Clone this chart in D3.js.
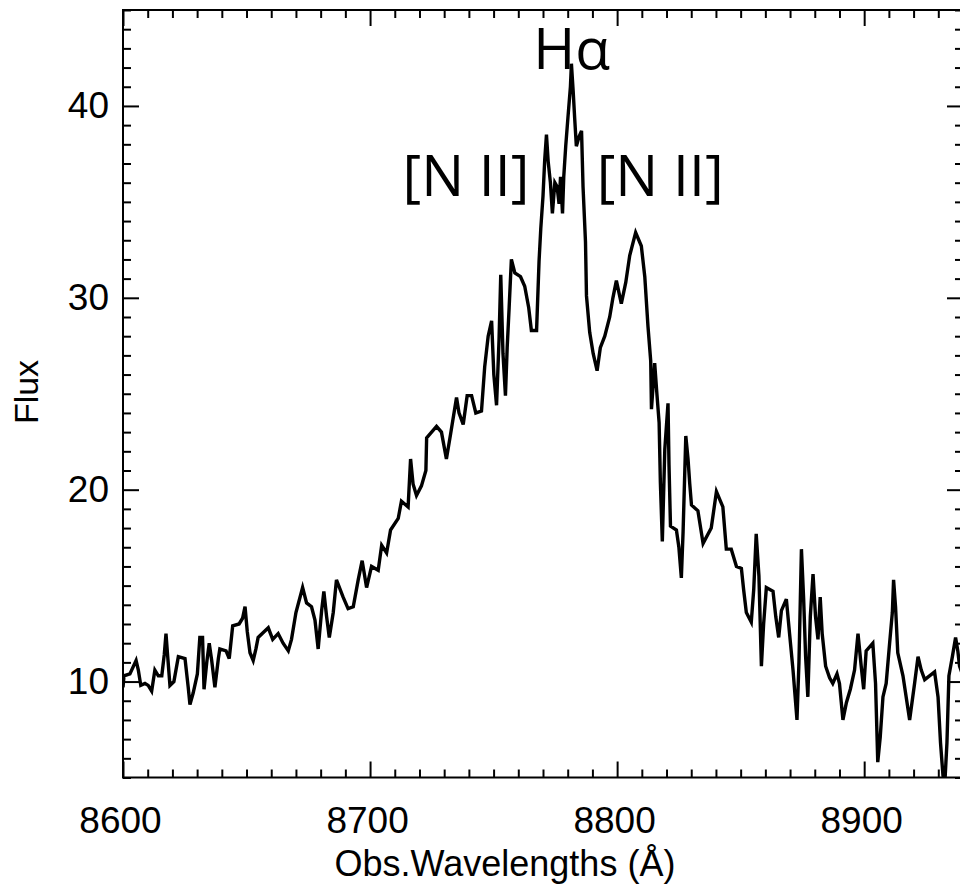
<!DOCTYPE html>
<html>
<head>
<meta charset="utf-8">
<script src="https://cdn.jsdelivr.net/npm/d3@7"></script>
<style>
    html, body { margin: 0; padding: 0; background: #fff; }
    svg { display: block; }
</style>
</head>
<body>
<div id="chart"></div>
<script>
/**
 * Spectrum around H-alpha + [N II], IDL style box plot.
 * Flux vs observed wavelength, ticks inside on all four sides.
 */

const wavelengths = [
    8600.0, 8600.4, 8602.8, 8605.3, 8606.2, 8607.2, 8608.9, 8610.2, 8611.6, 8612.9,
    8614.3, 8615.7, 8616.7, 8617.4, 8618.1, 8619.0, 8620.6, 8622.4, 8625.1, 8626.4,
    8627.1, 8628.4, 8630.1, 8631.1, 8632.2, 8632.8, 8633.9, 8634.9, 8635.9, 8637.2,
    8638.6, 8639.2, 8641.7, 8643.0, 8644.4, 8647.0, 8648.4, 8649.4, 8650.3, 8651.4,
    8652.7, 8653.8, 8654.7, 8658.8, 8660.6, 8662.8, 8664.8, 8666.9, 8668.2, 8670.0,
    8672.7, 8674.3, 8676.3, 8677.7, 8679.0, 8680.4, 8681.3, 8682.4, 8683.5, 8685.1,
    8686.4, 8689.1, 8691.1, 8693.2, 8695.2, 8696.8, 8698.6, 8700.6, 8703.3, 8704.7,
    8706.7, 8708.3, 8711.4, 8712.7, 8715.4, 8716.4, 8717.4, 8718.8, 8720.8, 8722.6,
    8722.9, 8726.9, 8728.9, 8730.9, 8732.6, 8735.0, 8736.0, 8737.7, 8739.3, 8741.1,
    8742.8, 8745.1, 8746.4, 8747.8, 8749.2, 8750.1, 8751.2, 8752.2, 8752.9, 8753.8,
    8754.8, 8755.5, 8756.3, 8757.2, 8758.6, 8760.9, 8762.6, 8764.2, 8765.3, 8767.4,
    8768.4, 8769.1, 8770.0, 8770.7, 8771.4, 8772.1, 8773.0, 8773.8, 8774.8, 8775.7,
    8776.5, 8777.1, 8777.9, 8778.4, 8779.2, 8780.1, 8781.1, 8781.5, 8782.2, 8782.8,
    8783.5, 8784.6, 8785.6, 8786.2, 8787.2, 8787.6, 8788.9, 8790.3, 8791.9, 8793.2,
    8795.0, 8797.0, 8798.3, 8799.7, 8801.7, 8803.5, 8805.1, 8807.5, 8809.8, 8811.2,
    8812.5, 8813.6, 8813.9, 8815.2, 8816.1, 8817.0, 8817.5, 8818.3, 8819.3, 8820.6,
    8821.0, 8821.6, 8824.0, 8825.0, 8826.0, 8826.7, 8827.8, 8828.7, 8829.4, 8830.1,
    8832.7, 8834.8, 8838.1, 8840.2, 8842.8, 8844.2, 8846.2, 8848.3, 8850.3, 8851.2,
    8852.3, 8854.3, 8855.3, 8856.3, 8857.4, 8858.4, 8859.3, 8860.4, 8863.1, 8864.2,
    8865.4, 8866.5, 8868.5, 8869.8, 8871.2, 8872.8, 8873.6, 8874.6, 8875.5, 8876.3,
    8877.2, 8878.2, 8879.3, 8880.3, 8881.3, 8882.2, 8883.0, 8884.4, 8886.0, 8887.3,
    8889.0, 8890.0, 8891.4, 8892.8, 8894.4, 8896.1, 8897.5, 8898.8, 8899.8, 8900.8,
    8903.5, 8904.6, 8905.5, 8906.5, 8907.6, 8908.9, 8910.3, 8911.4, 8911.9, 8912.7,
    8913.6, 8915.7, 8918.4, 8920.4, 8921.8, 8923.1, 8924.5, 8928.5, 8929.9, 8930.9,
    8931.9, 8932.6, 8933.5, 8934.3, 8935.7, 8937.0, 8937.9, 8938.6, 8940.0
];
const flux = [
    9.7, 10.3, 10.4, 11.1, 10.6, 9.8, 9.9, 9.8, 9.5, 10.6,
    10.3, 10.3, 11.4, 12.5, 11.3, 9.8, 10.0, 11.3, 11.2, 9.7,
    8.8, 9.4, 10.4, 12.3, 12.3, 9.6, 11.0, 12.0, 11.1, 9.7,
    11.2, 11.7, 11.6, 11.2, 12.9, 13.0, 13.3, 13.9, 12.6, 11.5,
    11.1, 11.7, 12.3, 12.8, 12.2, 12.5, 12.0, 11.6, 12.2, 13.6,
    14.9, 14.1, 13.9, 13.2, 11.7, 13.7, 14.7, 13.4, 12.3, 13.6,
    15.3, 14.4, 13.8, 13.9, 15.3, 16.3, 14.9, 16.0, 15.8, 17.1,
    16.7, 17.9, 18.5, 19.4, 19.1, 21.6, 20.3, 19.7, 20.2, 21.0,
    22.7, 23.3, 23.0, 21.6, 22.9, 24.8, 24.0, 23.4, 24.9, 24.9,
    24.0, 24.1, 26.4, 28.0, 28.8, 26.0, 24.4, 27.8, 31.2, 27.1,
    24.9, 27.4, 29.5, 32.0, 31.3, 31.1, 30.6, 29.5, 28.3, 28.3,
    31.9, 33.6, 35.3, 37.2, 38.5, 37.1, 36.0, 34.4, 36.0, 35.8,
    34.9, 36.3, 34.4, 36.3, 37.9, 39.4, 41.0, 42.2, 40.8, 39.4,
    37.9, 38.4, 38.7, 35.8, 32.9, 30.1, 28.2, 27.1, 26.2, 27.4,
    28.0, 29.0, 30.0, 30.9, 29.7, 30.8, 32.2, 33.4, 32.7, 31.1,
    28.5, 26.7, 24.2, 26.6, 25.0, 23.5, 20.4, 17.3, 22.1, 24.5,
    21.3, 18.1, 17.9, 17.0, 15.4, 17.8, 22.8, 21.6, 20.3, 19.2,
    18.9, 17.2, 18.0, 19.9, 19.1, 16.9, 16.9, 16.0, 15.9, 14.8,
    13.6, 13.1, 14.8, 17.7, 15.5, 10.8, 13.0, 14.9, 14.7, 13.4,
    12.3, 13.7, 14.3, 12.5, 10.6, 8.0, 11.0, 16.9, 14.3, 11.3,
    9.2, 13.4, 15.6, 13.4, 12.2, 14.4, 12.5, 10.8, 10.2, 9.9,
    10.4, 9.9, 8.0, 8.9, 9.6, 10.6, 12.5, 10.8, 9.6, 11.6,
    12.0, 9.9, 5.8, 7.1, 9.2, 9.9, 12.0, 13.6, 15.3, 13.9,
    11.5, 10.3, 8.0, 9.9, 11.3, 10.6, 10.1, 10.5, 9.2, 6.8,
    5.1, 4.6, 6.8, 10.3, 11.3, 12.3, 11.6, 10.8, 10.3
];

// Axis ticks and labels
const xTickValues = [8600, 8700, 8800, 8900];
const yTickValues = [10, 20, 30, 40];
const xAxisTitle = "Obs.Wavelengths (Å)";
const yAxisTitle = "Flux";

// Emission line annotations
const lineLabels = ["Hα", "[N II]", "[N II]"];
const lineLabelWavelengths = [8781.6, 8738.8, 8817.4];
const lineLabelFlux = [41.9, 35.3, 35.3];

const W = 960, H = 885;
const margin = { top: 10, left: 123, right: -3, bottom: 107.5 };
const FONT = "'Liberation Sans', Arial, sans-serif";

const svg = d3.select("#chart").append("svg")
    .attr("width", W)
    .attr("height", H);

svg.append("rect")
    .attr("width", W)
    .attr("height", H)
    .attr("fill", "#fff");

const x = d3.scaleLinear()
    .domain([8600, 8940])
    .range([margin.left, W - margin.right]);

const y = d3.scaleLinear()
    .domain([5, 45])
    .range([H - margin.bottom, margin.top]);

const x0 = margin.left, x1 = W - margin.right;
const y0 = H - margin.bottom, y1 = margin.top;

const xMinor = d3.range(8600, 8941, 10).filter(v => !xTickValues.includes(v));
const yMinor = d3.range(5, 46, 1).filter(v => !yTickValues.includes(v));

function styleAxis(g) {
    g.select(".domain").remove();
    g.selectAll(".tick line").attr("stroke", "#000").attr("stroke-width", 2);
    g.selectAll("text")
        .attr("fill", "#000")
        .attr("font-family", FONT)
        .attr("font-size", "37px");
}

// Bottom (labelled) and top axes, ticks pointing inward
svg.append("g").attr("transform", `translate(0,${y0})`)
    .call(d3.axisBottom(x).tickValues(xMinor).tickSize(-8).tickFormat(""))
    .call(styleAxis);
svg.append("g").attr("transform", `translate(0,${y0})`)
    .call(d3.axisBottom(x).tickValues(xTickValues).tickSize(-16).tickPadding(29).tickFormat(d3.format("d")))
    .call(styleAxis)
    .selectAll("text").attr("dx", "-3px");
svg.append("g").attr("transform", `translate(0,${y1})`)
    .call(d3.axisTop(x).tickValues(xMinor).tickSize(-8).tickFormat(""))
    .call(styleAxis);
svg.append("g").attr("transform", `translate(0,${y1})`)
    .call(d3.axisTop(x).tickValues(xTickValues).tickSize(-16).tickFormat(""))
    .call(styleAxis);

// Left (labelled) and right axes
svg.append("g").attr("transform", `translate(${x0},0)`)
    .call(d3.axisLeft(y).tickValues(yMinor).tickSize(-8).tickFormat(""))
    .call(styleAxis);
svg.append("g").attr("transform", `translate(${x0},0)`)
    .call(d3.axisLeft(y).tickValues(yTickValues).tickSize(-16).tickPadding(14).tickFormat(d3.format("d")))
    .call(styleAxis);
svg.append("g").attr("transform", `translate(${x1},0)`)
    .call(d3.axisRight(y).tickValues(yMinor).tickSize(-8).tickFormat(""))
    .call(styleAxis);
svg.append("g").attr("transform", `translate(${x1},0)`)
    .call(d3.axisRight(y).tickValues(yTickValues).tickSize(-16).tickFormat(""))
    .call(styleAxis);

// Box frame
svg.append("rect")
    .attr("x", x0)
    .attr("y", y1)
    .attr("width", x1 - x0)
    .attr("height", y0 - y1)
    .attr("fill", "none")
    .attr("stroke", "#000")
    .attr("stroke-width", 2);

// Spectrum, clipped to the box
svg.append("defs").append("clipPath")
    .attr("id", "plot-clip")
    .append("rect")
    .attr("x", x0)
    .attr("y", y1)
    .attr("width", x1 - x0)
    .attr("height", y0 - y1);

const line = d3.line()
    .x(i => x(wavelengths[i]))
    .y(i => y(flux[i]));

svg.append("path")
    .datum(d3.range(wavelengths.length))
    .attr("clip-path", "url(#plot-clip)")
    .attr("d", line)
    .attr("fill", "none")
    .attr("stroke", "#000")
    .attr("stroke-width", 3.4)
    .attr("stroke-linejoin", "miter");

// Line labels
svg.selectAll(".line-label")
    .data(lineLabels)
    .enter().append("text")
    .attr("class", "line-label")
    .attr("x", (d, i) => x(lineLabelWavelengths[i]))
    .attr("y", (d, i) => y(lineLabelFlux[i]))
    .attr("text-anchor", "middle")
    .attr("fill", "#000")
    .attr("font-family", "'Open Sans', sans-serif")
    .attr("font-size", "57px")
    .text(d => d);

// Axis titles
svg.append("text")
    .attr("x", 505)
    .attr("y", 876)
    .attr("text-anchor", "middle")
    .attr("fill", "#000")
    .attr("font-family", FONT)
    .attr("font-size", "36px")
    .text(xAxisTitle);

svg.append("text")
    .attr("transform", "translate(38,392) rotate(-90)")
    .attr("text-anchor", "middle")
    .attr("fill", "#000")
    .attr("font-family", FONT)
    .attr("font-size", "34px")
    .text(yAxisTitle);
</script>
</body>
</html>
